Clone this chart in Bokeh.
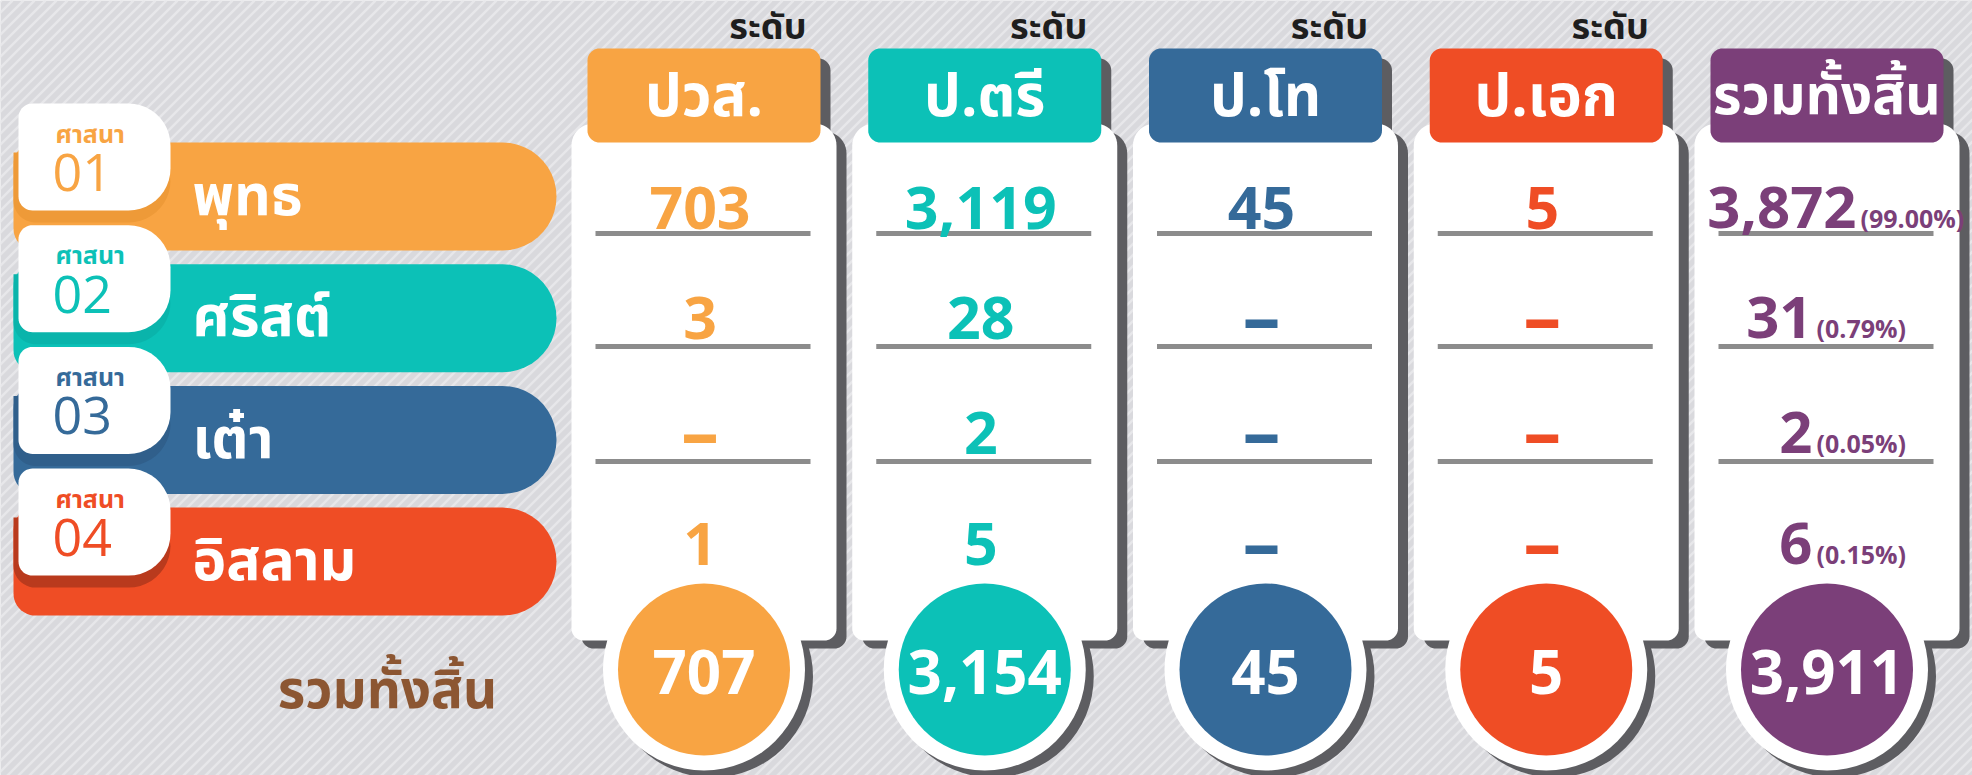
import numpy as np
from bokeh.plotting import figure
from bokeh.models import Range1d
from bokeh.core.properties import value
from bokeh.embed import file_html
from bokeh.resources import INLINE

# ---------------- data ----------------
religion_word = "ศาสนา"
religions = ["พุทธ", "ศริสต์", "เต๋า", "อิสลาม"]
religion_codes = ["01", "02", "03", "04"]
level_prefix = "ระดับ"
levels = ["ปวส.", "ป.ตรี", "ป.โท", "ป.เอก"]
total_header = "รวมทั้งสิ้น"
total_label = "รวมทั้งสิ้น"
vocational = [703, 3, 0, 1]
bachelor = [3119, 28, 2, 5]
master = [45, 0, 0, 0]
doctorate = [5, 0, 0, 0]
religion_totals = [3872, 31, 2, 6]
religion_shares = ["(99.00%)", "(0.79%)", "(0.05%)", "(0.15%)"]
level_totals = [707, 3154, 45, 5]
grand_total = 3911

# ---------------- style ----------------
ORANGE, TEAL, BLUE, RED, PURPLE = "#F8A443", "#0CC1B7", "#356A99", "#EF4D25", "#7B3F79"
rel_colors = [ORANGE, TEAL, BLUE, RED]
rel_dark = ["#EE9A38", "#0AB4AB", "#305F8B", "#B93A1D"]
col_colors = [ORANGE, TEAL, BLUE, RED, PURPLE]
SHADOW = "#5D5D61"
LINE = "#8C8C8C"
BG = "#D9D9DD"
THAI = value("Noto Sans Thai")
NUM = value("Open Sans")

W, H = 1972, 775
p = figure(width=W, height=H, x_range=Range1d(0, W), y_range=Range1d(H, 0),
           output_backend="svg", toolbar_location=None, min_border=0,
           x_axis_location=None, y_axis_location=None)
p.grid.visible = False
p.outline_line_color = None
p.background_fill_color = BG
p.border_fill_color = BG


def rrect(x0, y0, x1, y1, rtl, rtr, rbr, rbl, n=12):
    xs, ys = [], []

    def arc(cx, cy, r, a0, a1):
        t = np.linspace(a0, a1, n)
        xs.extend(list(cx + r * np.cos(t)))
        ys.extend(list(cy + r * np.sin(t)))

    arc(x0 + rtl, y0 + rtl, rtl, np.pi, 1.5 * np.pi)
    arc(x1 - rtr, y0 + rtr, rtr, 1.5 * np.pi, 2 * np.pi)
    arc(x1 - rbr, y1 - rbr, rbr, 0, 0.5 * np.pi)
    arc(x0 + rbl, y1 - rbl, rbl, 0.5 * np.pi, np.pi)
    return xs, ys


def shape(xs_ys, color):
    p.patch(xs_ys[0], xs_ys[1], fill_color=color, line_color=None)


# background stripes
offs = np.arange(-800.0, 2000.0, 11.0)
p.segment(x0=offs, y0=np.full_like(offs, 790.0), x1=offs + 790.0, y1=np.zeros_like(offs),
          line_color="#E7E7EA", line_width=2.5)

# ---------------- left: religions ----------------
bar_top0, bar_pitch, bar_h = 142, 121.7, 108
for i, name in enumerate(religions):
    t = bar_top0 + i * bar_pitch
    shape(rrect(13, t, 556, t + bar_h, 22, bar_h / 2, bar_h / 2, 22), rel_colors[i])
    shape(rrect(13, t + 10, 170, t + 80, 0, 30, 42, 22), rel_dark[i])
    shape(rrect(18, t - 39, 170, t + 68, 14, 42, 42, 14), "white")
    p.text(x=[55], y=[t - 8], text=[religion_word], text_font=THAI, text_font_style="bold",
           text_font_size="25px", text_color=rel_colors[i], text_align="left", text_baseline="middle")
    p.text(x=[52], y=[t + 30], text=[religion_codes[i]], text_font=NUM, text_font_style="normal",
           text_font_size="52px", text_color=rel_colors[i], text_align="left", text_baseline="middle")
    p.text(x=[192], y=[t + 55], text=[name], text_font=THAI, text_font_style="bold",
           text_font_size="57px", text_color="white", text_align="left", text_baseline="middle")

p.text(x=[387], y=[691], text=[total_label], text_font=THAI, text_font_style="bold",
       text_font_size="53px", text_color="#8C5632", text_align="center", text_baseline="middle")

# ---------------- columns ----------------
col_left0, col_pitch, col_w = 587, 280.75, 233
head_top, head_bot = 48, 142
card_top, card_bot = 123, 640
row_y = [207, 317, 432, 543]
line_y = [233, 346, 461]
circ_y, circ_r, ring_r = 669, 86, 101

columns = [vocational, bachelor, master, doctorate]
headers = levels + [total_header]
header_sizes = ["58px", "58px", "58px", "58px", "55px"]
totals = level_totals + [grand_total]


def fmt(v):
    return f"{v:,}" if v else "–"


for k in range(5):
    hl = col_left0 + k * col_pitch
    hr = hl + col_w
    cx = (hl + hr) / 2
    cl, cr = hl - 16, hr + 16
    # shadows
    shape(rrect(cl + 10, card_top + 8, cr + 10, card_bot + 8, 22, 22, 12, 12), SHADOW)
    shape(rrect(hl + 10, head_top + 10, hr + 10, head_bot + 10, 12, 12, 12, 12), SHADOW)
    p.circle(x=[cx + 8], y=[circ_y + 7], radius=ring_r, fill_color=SHADOW, line_color=None)
    # white card + ring
    shape(rrect(cl, card_top, cr, card_bot, 22, 22, 12, 12), "white")
    p.circle(x=[cx], y=[circ_y], radius=ring_r, fill_color="white", line_color=None)
    # header
    shape(rrect(hl, head_top, hr, head_bot, 12, 12, 12, 12), col_colors[k])
    p.text(x=[cx], y=[(head_top + head_bot) / 2 + 2], text=[headers[k]], text_font=THAI,
           text_font_style="bold", text_font_size=header_sizes[k], text_color="white",
           text_align="center", text_baseline="middle")
    if k < 4:
        p.text(x=[hr - 14], y=[27], text=[level_prefix], text_font=THAI, text_font_style="bold",
               text_font_size="36px", text_color="#1E1E1E", text_align="right", text_baseline="middle")
    # separators
    p.segment(x0=[hl + 8] * 3, y0=line_y, x1=[hr - 10] * 3, y1=line_y,
              line_color=LINE, line_width=5)
    # values
    vx = cx - 4
    if k < 4:
        vals = columns[k]
        texts = [fmt(v) for v in vals]
        num_t = [t for t in texts if t != "–"]
        num_y = [row_y[r] for r, t in enumerate(texts) if t != "–"]
        dash_y = [row_y[r] - 3 for r, t in enumerate(texts) if t == "–"]
        p.text(x=[vx] * len(num_t), y=num_y, text=num_t, text_font=NUM, text_font_style="bold",
               text_font_size="59px", text_color=col_colors[k], text_align="center",
               text_baseline="middle")
        if dash_y:
            p.text(x=[vx] * len(dash_y), y=dash_y, text=["–"] * len(dash_y), text_font=NUM,
                   text_font_style="bold", text_font_size="76px", text_color=col_colors[k],
                   text_align="center", text_baseline="middle")
    else:
        split = [1856, 1812, 1812, 1812]
        p.text(x=split, y=row_y, text=[fmt(v) for v in religion_totals],
               text_font=NUM, text_font_style="bold", text_font_size="58px", text_color=PURPLE,
               text_align="right", text_baseline="middle")
        p.text(x=[s + 4 for s in split], y=[r + 10 for r in row_y], text=religion_shares,
               text_font=NUM, text_font_style="bold", text_font_size="25px", text_color=PURPLE,
               text_align="left", text_baseline="middle")
    # total circle
    p.circle(x=[cx], y=[circ_y], radius=circ_r, fill_color=col_colors[k], line_color=None)
    p.text(x=[cx], y=[circ_y + 2], text=[fmt(totals[k])], text_font=NUM, text_font_style="bold",
           text_font_size="60px", text_color="white", text_align="center", text_baseline="middle")

open("out.html", "w").write(file_html(p, INLINE))
